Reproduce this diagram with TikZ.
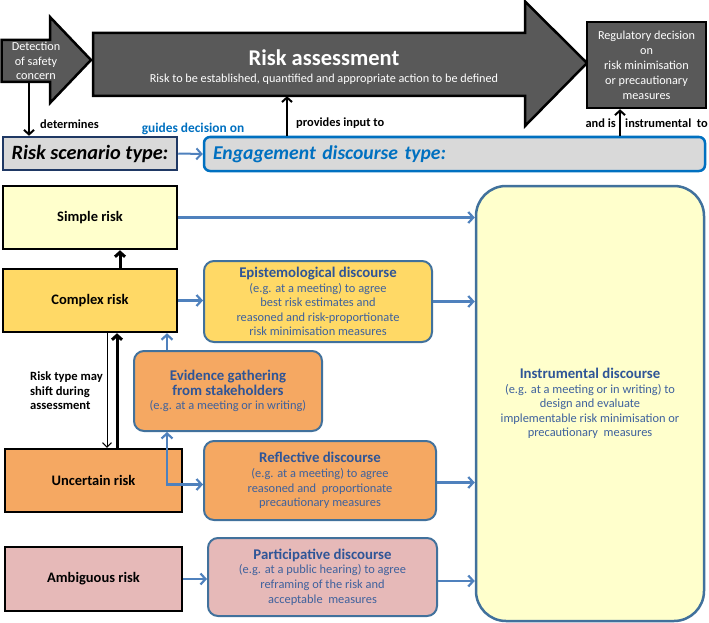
\documentclass[tikz,border=0pt]{standalone}
\usepackage{fontspec}
\setmainfont{Carlito}
\usetikzlibrary{arrows.meta}
\definecolor{dg}{HTML}{595959}
\definecolor{lightyel}{HTML}{FFFFCC}
\definecolor{gold}{HTML}{FFD966}
\definecolor{orng}{HTML}{F5A862}
\definecolor{pinkc}{HTML}{E6B9B8}
\definecolor{bordblue}{HTML}{41719C}
\definecolor{arrblue}{HTML}{4F81BD}
\definecolor{titleblue}{HTML}{2F5597}
\definecolor{bodyblue}{HTML}{3E619D}
\definecolor{brightblue}{HTML}{0070C0}
\definecolor{navy}{HTML}{1F3864}
\definecolor{lgray}{HTML}{D9D9D9}
\newcommand{\dtitle}[1]{{\fontsize{14.8}{16.5}\selectfont\bfseries\color{titleblue}#1}}
\begin{document}
\begin{tikzpicture}[x=1pt,y=-1pt,
  riskbox/.style={draw=black, line width=2.5pt, minimum width=174pt, minimum height=63pt, inner sep=0pt, font=\fontsize{14.5}{16}\selectfont\bfseries},
  disc/.style={draw=bordblue, line width=2pt, rounded corners=10pt, align=center, inner sep=0pt, font=\fontsize{12.4}{14.6}\selectfont, text=bodyblue},
  barr/.style={draw=arrblue, line width=2.2pt, -{Straight Barb[length=5pt,width=11pt]}},
  karr/.style={draw=black, line width=2pt, -{Straight Barb[length=4.5pt,width=10pt]}},
  lbl/.style={font=\fontsize{12.4}{14.5}\selectfont\bfseries, inner sep=0pt},
  darkshape/.style={fill=dg, draw=black, line width=2.5pt, line join=miter}
]
\useasboundingbox (0,0) rectangle (709,623);

% Detection arrow
\path[darkshape] (1.5,40) -- (50,40) -- (50,17) -- (91,60) -- (50,103) -- (50,82) -- (1.5,82) -- cycle;
\node[align=center, text=white, font=\fontsize{12.2}{14.5}\selectfont, inner sep=0pt] (det) at (36,61) {Detection\\of safety\\concern};
\coordinate (detb) at (29,82);

% Risk assessment arrow
\path[darkshape] (93,33) -- (525,33) -- (525,1.5) -- (587,63) -- (525,126) -- (525,96) -- (93,96) -- cycle;
\node[minimum width=432pt, minimum height=63pt, inner sep=0pt] (rabody) at (309,64.5) {};
\node[align=center, text=white, inner sep=0pt] (ratext) at (324,67)
  {{\fontsize{22.5}{26}\selectfont\bfseries Risk assessment}\\[5pt]
   {\fontsize{12.2}{14}\selectfont Risk to be established, quantified and appropriate action to be defined}};

% Regulatory decision
\node[fill=dg, draw=black, line width=2.5pt, minimum width=119pt, minimum height=86pt, inner sep=0pt,
      align=center, text=white, font=\fontsize{12.2}{15}\selectfont] (reg) at (646.5,65)
  {Regulatory decision\\on\\risk minimisation\\or precautionary\\measures};

% Scenario and engagement boxes
\node[fill=lgray, draw=navy, line width=2.5pt, minimum width=174pt, minimum height=33pt, inner sep=0pt,
      font=\fontsize{20.3}{22}\selectfont\bfseries\itshape] (scen) at (90,153.5) {Risk scenario type:};
\node[fill=lgray, draw=brightblue, line width=2.5pt, rounded corners=6pt, minimum width=501pt, minimum height=34pt,
      inner xsep=9pt, inner ysep=0pt, text width=483pt, align=left, text=brightblue,
      font=\fontsize{19.6}{22}\selectfont\bfseries\itshape] (eng) at (454.5,154) {Engagement discourse type:};

\draw[karr] (detb) -- (detb |- scen.north);
\node[lbl, anchor=west] (detlbl) at (40,124) {determines};

\draw[barr, line width=2pt] (scen.east) -- (eng.west);
\node[lbl, text=brightblue, font=\fontsize{13.4}{15}\selectfont\bfseries] (guideslbl) at (193,129) {guides decision on};

\coordinate (pin) at (287,0);
\draw[karr] (eng.north -| pin) -- (rabody.south -| pin);
\node[lbl, anchor=west] (provlbl) at (296,123) {provides input to};

\coordinate (ins) at (620,0);
\draw[karr] (eng.north -| ins) -- (reg.south -| ins);
\node[lbl, anchor=east] (andis) at (616,123) {and is};
\node[lbl, anchor=west] (instlbl) at (625,123) {instrumental\ \ to};

% Risk boxes
\node[riskbox, fill=lightyel] (simple) at (90,217.5) {Simple risk};
\node[riskbox, fill=gold] (complex) at (90,300.5) {Complex risk};
\node[riskbox, fill=orng, minimum width=177pt] (uncert) at (93.5,480.5) {Uncertain risk};
\node[riskbox, fill=pinkc, minimum width=177pt, minimum height=64pt] (ambig) at (93.5,579) {Ambiguous risk};

\coordinate (cx) at (120,0);
\draw[karr, line width=3pt] (complex.north -| cx) -- (simple.south -| cx);
\coordinate (dx) at (107,0);
\draw[karr, line width=0.9pt, -{Straight Barb[length=4.5pt,width=9pt]}] (complex.south -| dx) -- (uncert.north -| dx);
\coordinate (ux) at (117,0);
\draw[karr, line width=3pt] (uncert.north -| ux) -- (complex.south -| ux);
\node[lbl, anchor=west, align=left, font=\fontsize{12.6}{14.5}\selectfont\bfseries] (shiftlbl) at (30,391) {Risk type may\\shift during\\assessment};

% Discourse boxes
\node[disc, fill=gold, minimum width=228pt, minimum height=81pt] (epi) at (318,301.5)
  {\dtitle{Epistemological discourse}\\(e.g. at a meeting) to agree\\best risk estimates and\\reasoned and risk-proportionate\\risk minimisation measures};
\node[disc, fill=orng, minimum width=188pt, minimum height=80pt] (evid) at (228,391)
  {\dtitle{Evidence gathering}\\\dtitle{from stakeholders}\\(e.g. at a meeting or in writing)};
\node[disc, fill=orng, minimum width=232pt, minimum height=79pt] (refl) at (320,480.5)
  {\dtitle{Reflective discourse}\\(e.g. at a meeting) to agree\\reasoned and\ \ proportionate\\precautionary measures};
\node[disc, fill=pinkc, minimum width=229pt, minimum height=78pt] (part) at (322.5,577)
  {\dtitle{Participative discourse}\\(e.g. at a public hearing) to agree\\reframing of the risk and\\acceptable\ \ measures};
\node[disc, fill=lightyel, line width=2.5pt, rounded corners=30pt, minimum width=228pt, minimum height=435pt] (instr) at (590,403.5)
  {\dtitle{Instrumental discourse}\\(e.g. at a meeting or in writing) to\\design and evaluate\\implementable risk minimisation or\\precautionary\ \ measures};

% Blue connectors
\draw[barr] (complex.east) -- (complex.east -| epi.west);
\coordinate (ex) at (167,0);
\draw[barr] (evid.north -| ex) -- (complex.south -| ex);
\draw[barr, {Straight Barb[length=5pt,width=11pt]}-{Straight Barb[length=5pt,width=11pt]}] (evid.south -| ex) |- ([yshift=-4pt]refl.west);
\draw[barr] (ambig.east) -- (ambig.east -| part.west);
\draw[barr] (simple.east) -- (simple.east -| instr.west);
\draw[barr] (epi.east) -- (epi.east -| instr.west);
\draw[barr] ([yshift=-2pt]refl.east) -- ([yshift=-2pt]refl.east -| instr.west);
\draw[barr] ([yshift=-4pt]part.east) -- ([yshift=-4pt]part.east -| instr.west);
\end{tikzpicture}
\end{document}
